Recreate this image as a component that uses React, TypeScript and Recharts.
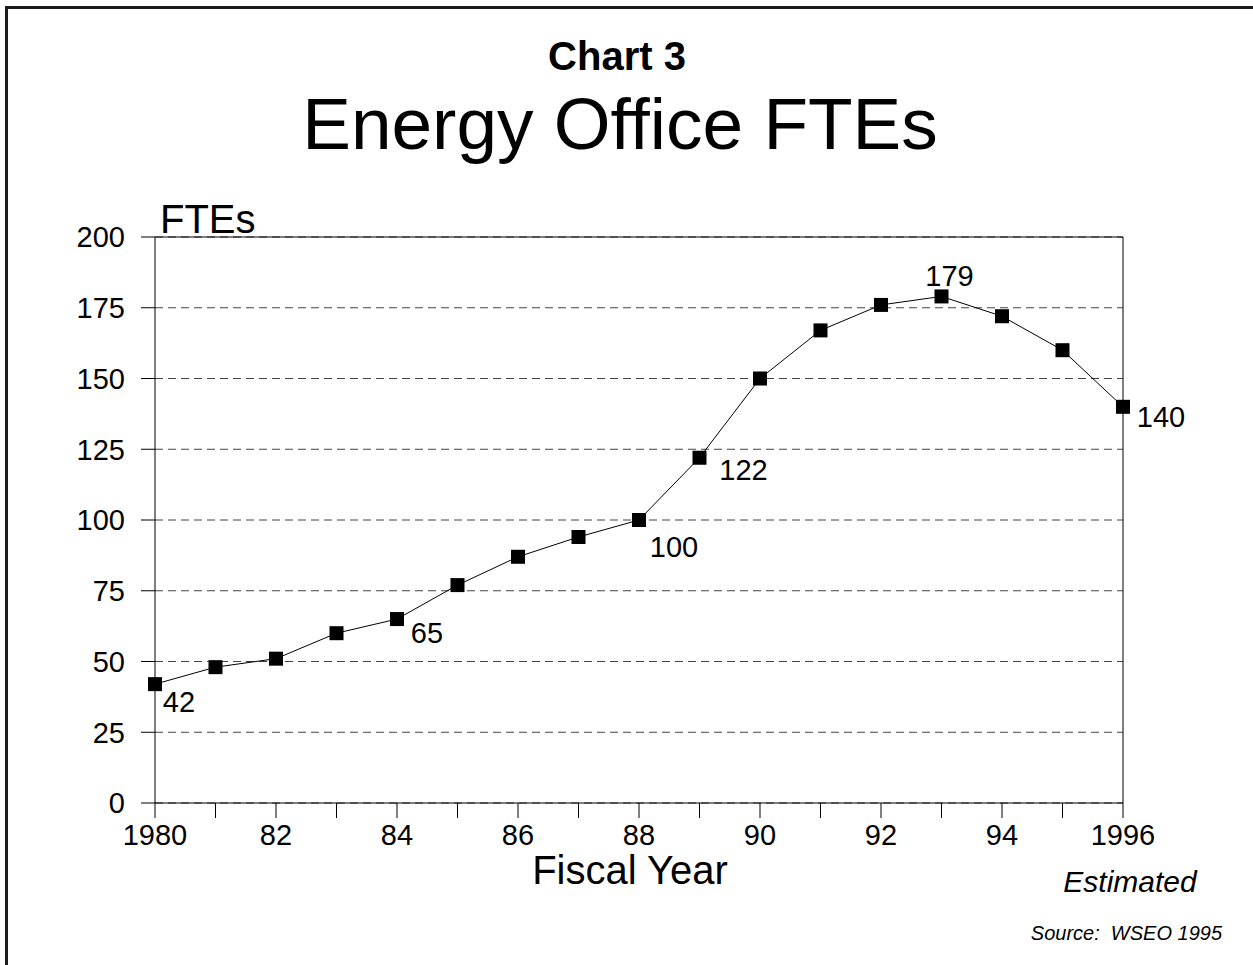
import React from 'react'
import { LineChart, Line, XAxis, YAxis, CartesianGrid, ReferenceLine, LabelList } from 'recharts'

// fiscal years and FTE counts
const years = [1980, 1981, 1982, 1983, 1984, 1985, 1986, 1987, 1988, 1989, 1990, 1991, 1992, 1993, 1994, 1995, 1996]
const ftes = [42, 48, 51, 60, 65, 77, 87, 94, 100, 122, 150, 167, 176, 179, 172, 160, 140]
const xTickLabels = ['1980', '', '82', '', '84', '', '86', '', '88', '', '90', '', '92', '', '94', '', '1996']
const yTicks = [0, 25, 50, 75, 100, 125, 150, 175, 200]
const labeledYears = [1980, 1984, 1988, 1989, 1993, 1996]

// where each value label sits relative to its marker
const labelOffsets: Record<number, [number, number]> = {
  1980: [24, 28],
  1984: [30, 24],
  1988: [35, 37],
  1989: [44, 22],
  1993: [8, -10],
  1996: [38, 20],
}

const FONT = '"Liberation Sans", Arial, sans-serif'

const data = years.map((year, i) => ({
  year,
  fte: ftes[i],
  label: labeledYears.includes(year) ? ftes[i] : null,
}))

const SquareDot = (props: any) => {
  const { cx, cy, index } = props
  if (cx == null || cy == null) return <g key={`d-${index}`} />
  return <rect key={`d-${index}`} x={cx - 7} y={cy - 7} width={14} height={14} fill="#000" />
}

const ValueLabel = (props: any) => {
  const { x, y, value, index } = props
  if (value == null || value === '') return null
  const year = data[index]?.year
  const [dx, dy] = labelOffsets[year] || [20, 20]
  return (
    <text x={x + dx} y={y + dy} textAnchor="middle" fontSize={29} fontFamily={FONT} fill="#000">
      {value}
    </text>
  )
}

export default function App() {
  return (
    <div style={{ position: 'absolute', left: 0, top: 0, width: 1253, height: 965, background: '#fff', overflow: 'hidden' }}>
      <div
        style={{
          position: 'absolute',
          left: 5,
          top: 6,
          width: 1248,
          height: 959,
          borderLeft: '3px solid #1c1c1c',
          borderTop: '3px solid #1c1c1c',
          boxSizing: 'border-box',
        }}
      />
      <div style={{ position: 'absolute', left: 0, top: 0 }}>
        <LineChart width={1253} height={965} data={data} margin={{ top: 237, right: 130, bottom: 102, left: 0 }}>
          <CartesianGrid vertical={false} strokeDasharray="8 5" stroke="#444" />
          <XAxis
            dataKey="year"
            type="number"
            domain={[1980, 1996]}
            ticks={years}
            interval={0}
            tickFormatter={(v: number) => xTickLabels[years.indexOf(v)] ?? ''}
            tickSize={15}
            tickMargin={6}
            height={60}
            axisLine={{ stroke: '#000' }}
            tickLine={{ stroke: '#000' }}
            tick={{ fill: '#000', fontSize: 29, fontFamily: FONT }}
          />
          <YAxis
            type="number"
            domain={[0, 200]}
            ticks={yTicks}
            interval={0}
            width={155}
            tickSize={14}
            tickMargin={16}
            axisLine={{ stroke: '#000' }}
            tickLine={{ stroke: '#000' }}
            tick={{ fill: '#000', fontSize: 29, fontFamily: FONT }}
          />
          <ReferenceLine y={200} stroke="#000" strokeWidth={1} />
          <ReferenceLine x={1996} stroke="#000" strokeWidth={1} />
          <Line
            type="linear"
            dataKey="fte"
            stroke="#000"
            strokeWidth={1}
            dot={SquareDot}
            activeDot={false}
            isAnimationActive={false}
          >
            <LabelList dataKey="label" content={ValueLabel} />
          </Line>
        </LineChart>
      </div>
      <svg width={1253} height={965} style={{ position: 'absolute', left: 0, top: 0, pointerEvents: 'none' }}>
        <text x={617} y={70} textAnchor="middle" fontSize={40} fontWeight="bold" fontFamily={FONT} fill="#000">
          Chart 3
        </text>
        <text x={620} y={149} textAnchor="middle" fontSize={73} fontFamily={FONT} fill="#000">
          Energy Office FTEs
        </text>
        <text x={160} y={233} fontSize={40} fontFamily={FONT} fill="#000">
          FTEs
        </text>
        <text x={630} y={884} textAnchor="middle" fontSize={40} fontFamily={FONT} fill="#000">
          Fiscal Year
        </text>
        <text x={1130} y={892} textAnchor="middle" fontSize={30} fontStyle="italic" fontFamily={FONT} fill="#000">
          Estimated
        </text>
        <text x={1222} y={940} textAnchor="end" fontSize={20} fontStyle="italic" fontFamily={FONT} fill="#000">
          {'Source:\u00a0 WSEO 1995'}
        </text>
      </svg>
    </div>
  )
}
